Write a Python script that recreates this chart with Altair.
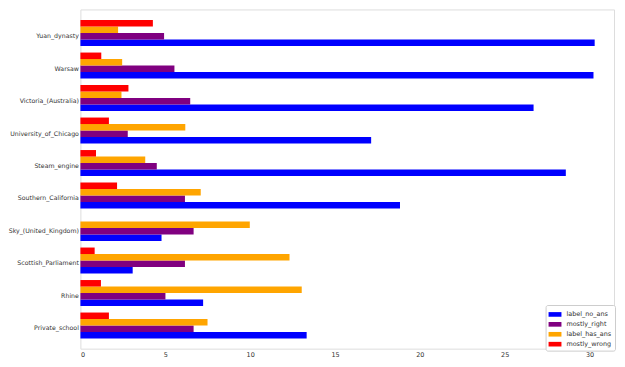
import altair as alt
import pandas as pd

topics = ["Yuan_dynasty", "Warsaw", "Victoria_(Australia)", "University_of_Chicago",
          "Steam_engine", "Southern_California", "Sky_(United_Kingdom)",
          "Scottish_Parliament", "Rhine", "Private_school"]

label_no_ans = [30.3, 30.23, 26.7, 17.13, 28.6, 18.83, 4.78, 3.08, 7.23, 13.33]
mostly_right = [4.93, 5.54, 6.47, 2.79, 4.5, 6.16, 6.67, 6.16, 5.01, 6.67]
label_has_ans = [2.22, 2.46, 2.42, 6.18, 3.82, 7.09, 9.98, 12.32, 13.04, 7.49]
mostly_wrong = [4.27, 1.23, 2.83, 1.68, 0.92, 2.16, 0.0, 0.84, 1.21, 1.68]

series_names = ["label_no_ans", "mostly_right", "label_has_ans", "mostly_wrong"]
series_colors = ["#0000ff", "#800080", "#ffa500", "#ff0000"]
bar_order = ["mostly_wrong", "label_has_ans", "mostly_right", "label_no_ans"]

wide = pd.DataFrame({
    "topic": topics,
    "label_no_ans": label_no_ans,
    "mostly_right": mostly_right,
    "label_has_ans": label_has_ans,
    "mostly_wrong": mostly_wrong,
})
df = wide.melt(id_vars="topic", var_name="series", value_name="value")

font = "DejaVu Sans"

chart = alt.Chart(df).mark_bar().encode(
    y=alt.Y("topic:N", sort=topics, title=None,
            scale=alt.Scale(paddingInner=0.2, paddingOuter=0.319, align=0.512),
            axis=alt.Axis(ticks=False, labelPadding=2, labelOffset=3,
                          labelFontSize=6.3, labelColor="#333333", labelFont=font,
                          domain=False, minExtent=70, maxExtent=70, labelLimit=200)),
    yOffset=alt.YOffset("series:N", sort=bar_order,
                        scale=alt.Scale(domain=bar_order, paddingInner=0, paddingOuter=0)),
    x=alt.X("value:Q", title=None,
            scale=alt.Scale(domain=[0, 31.44], nice=False, zero=True),
            axis=alt.Axis(values=[0, 5, 10, 15, 20, 25, 30], ticks=False, grid=False,
                          labelPadding=3, labelFontSize=6.5, labelColor="#333333",
                          labelFont=font, domain=False, format="d",
                          minExtent=9, maxExtent=9)),
    color=alt.Color("series:N",
                    scale=alt.Scale(domain=series_names, range=series_colors),
                    legend=alt.Legend(title=None, orient="none", legendX=469, legendY=298,
                                      symbolType="M-1,-0.36H1V0.36H-1Z", symbolSize=169,
                                      symbolStrokeWidth=0, labelFontSize=6.5,
                                      labelFont=font, labelColor="#333333",
                                      labelOffset=5, rowPadding=-1, padding=3,
                                      fillColor="white", strokeColor="#cccccc",
                                      cornerRadius=2)),
).properties(
    width=538, height=342,
    padding={"left": 0, "top": 0, "right": 1, "bottom": 0},
).configure_view(
    stroke="#c8c8c8", strokeWidth=1
).configure(background="white")

chart.save("out.html", embed_options={"renderer": "svg", "actions": False})
